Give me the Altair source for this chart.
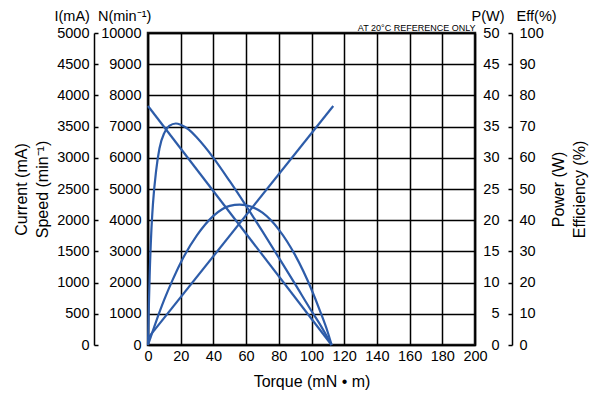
import altair as alt
import pandas as pd

# ---- data ----
torque_speed = [0, 112.3]
speed_vals = [7660, 0]

torque_current = [0, 113.3]
current_vals = [110, 3830]

torque_power = [0, 5, 10, 15, 20, 30, 40, 50, 56, 60, 70, 80, 90, 100, 105, 110, 112.3]
power_vals = [0, 3.8, 7.3, 10.4, 13.2, 17.6, 20.7, 22.3, 22.5, 22.4, 21.2, 18.5, 14.4, 8.9, 5.6, 2.0, 0]

torque_eff = [0, 0.5, 1, 2, 3, 5, 7, 10, 13, 17, 20, 25, 30, 40, 50, 60, 70, 80, 90, 100, 106, 110, 112.3]
eff_vals = [0, 12, 22, 36, 45, 56, 63, 68, 70.2, 71, 70.6, 69, 66.4, 60, 52.5, 44.6, 36.4, 28, 19.5, 10.9, 5.9, 2.2, 0]

x_ticks = list(range(0, 201, 20))
current_ticks = list(range(0, 5001, 500))
speed_ticks = list(range(0, 10001, 1000))
power_ticks = list(range(0, 51, 5))
eff_ticks = list(range(0, 101, 10))

df_speed = pd.DataFrame({"torque": torque_speed, "speed": speed_vals})
df_current = pd.DataFrame({"torque": torque_current, "current": current_vals})
df_power = pd.DataFrame({"torque": torque_power, "power": power_vals})
df_eff = pd.DataFrame({"torque": torque_eff, "eff": eff_vals})

W, H = 327, 312
FONT = "Liberation Sans"
LINE = "#2d5ca9"
LW = 2.2
LAB = 14.5

xscale = alt.Scale(domain=[0, 200], nice=False)

x_bottom = alt.X(
    "torque:Q", scale=xscale,
    axis=alt.Axis(values=x_ticks, title="Torque (mN • m)", grid=True, domain=False,
                  ticks=False, labelPadding=4, labelFontSize=LAB, titleFontSize=16,
                  titlePadding=11, format="d", labelFlush=False),
)
x_none = alt.X("torque:Q", scale=xscale, axis=None)
x_top = alt.X(
    "torque:Q", scale=xscale,
    axis=alt.Axis(orient="top", labels=False, ticks=False, domain=False, grid=False,
                  title="AT 20°C REFERENCE ONLY", titleAnchor="end", titleAlign="right",
                  titleFontSize=9, titlePadding=1),
)

speed = alt.Chart(df_speed).mark_line(color=LINE, strokeWidth=LW).encode(
    x=x_bottom,
    y=alt.Y("speed:Q", scale=alt.Scale(domain=[0, 10000], nice=False),
            axis=alt.Axis(orient="right", offset=-(W + 54), values=speed_ticks, grid=False,
                          domain=True, domainColor="black", domainWidth=1.5,
                          ticks=True, tickSize=4, tickColor="black", tickWidth=1.5,
                          labelAlign="right", labelPadding=43, labelFontSize=LAB, format="d",
                          title="I(mA)\u00a0\u00a0N(min⁻¹)", titleAngle=0, titleX=-40,
                          titleY=-13, titleAlign="left", titleBaseline="alphabetic",
                          titleFontSize=14.5)),
)

current = alt.Chart(df_current).mark_line(color=LINE, strokeWidth=LW).encode(
    x=x_none,
    y=alt.Y("current:Q", scale=alt.Scale(domain=[0, 5000], nice=False),
            axis=alt.Axis(orient="left", offset=54, values=current_ticks, grid=True,
                          domain=False, ticks=False, tickSize=0, labelPadding=5,
                          labelFontSize=LAB, format="d",
                          title=["Current (mA)", "Speed (min⁻¹)"], titleAngle=270,
                          titleFontSize=16, titleLineHeight=21, titlePadding=6)),
)

power = alt.Chart(df_power).mark_line(color=LINE, strokeWidth=LW, interpolate="monotone").encode(
    x=x_none,
    y=alt.Y("power:Q", scale=alt.Scale(domain=[0, 50], nice=False),
            axis=alt.Axis(orient="left", offset=-(W + 37), values=power_ticks, grid=False,
                          domain=True, domainColor="black", domainWidth=1.5,
                          ticks=True, tickSize=4, tickColor="black", tickWidth=1.5,
                          labelPadding=9, labelFontSize=LAB, format="d",
                          title="P(W)\u00a0\u00a0\u00a0Eff(%)", titleAngle=0, titleX=-41,
                          titleY=-13, titleAlign="left", titleBaseline="alphabetic",
                          titleFontSize=14.5)),
)

eff = alt.Chart(df_eff).mark_line(color=LINE, strokeWidth=LW, interpolate="monotone").encode(
    x=x_top,
    y=alt.Y("eff:Q", scale=alt.Scale(domain=[0, 100], nice=False),
            axis=alt.Axis(orient="right", offset=37, values=eff_ticks, grid=False,
                          domain=False, ticks=False, tickSize=0, labelPadding=7,
                          labelFontSize=LAB, format="d",
                          title=["Power (W)", "Efficiency (%)"], titleAngle=270,
                          titleFontSize=16, titleLineHeight=21, titlePadding=2)),
)

chart = (
    alt.layer(speed, current, power, eff)
    .resolve_scale(y="independent")
    .resolve_axis(y="independent", x="independent")
    .properties(width=W, height=H, autosize=alt.AutoSizeParams(type="none"),
                padding={"left": 140, "top": 25, "right": 117, "bottom": 46})
    .configure_view(stroke="#1a1a1a", strokeWidth=2.5)
    .configure_axis(labelFont=FONT, titleFont=FONT, labelColor="black", titleColor="black",
                    titleFontWeight="normal", gridColor="black", gridWidth=1.5, gridOpacity=1)
)

chart.save("out.html", embed_options={"renderer": "svg", "actions": False})
